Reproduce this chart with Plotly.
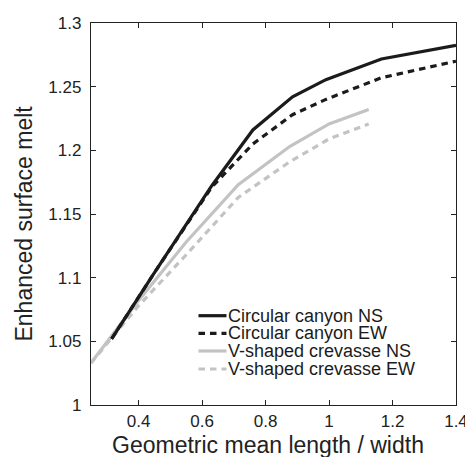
import plotly.graph_objects as go

# Data
cc_ns_x = [0.315, 0.45, 0.63, 0.76, 0.885, 0.99, 1.165, 1.4]
cc_ns_y = [1.052, 1.104, 1.172, 1.216, 1.242, 1.2555, 1.2717, 1.2824]

cc_ew_x = [0.315, 0.45, 0.63, 0.76, 0.885, 0.99, 1.165, 1.4]
cc_ew_y = [1.052, 1.104, 1.171, 1.205, 1.228, 1.240, 1.257, 1.270]

vs_ns_x = [0.25, 0.4, 0.55, 0.714, 0.876, 1.0, 1.125]
vs_ns_y = [1.033, 1.082, 1.128, 1.173, 1.203, 1.2207, 1.232]

vs_ew_x = [0.25, 0.4, 0.55, 0.714, 0.876, 1.0, 1.125]
vs_ew_y = [1.033, 1.078, 1.118, 1.163, 1.191, 1.209, 1.2207]

names = ["Circular canyon NS", "Circular canyon EW",
         "V-shaped crevasse NS", "V-shaped crevasse EW"]

x_title = "Geometric mean length / width"
y_title = "Enhanced surface melt"

x_ticks = [0.4, 0.6, 0.8, 1.0, 1.2, 1.4]
x_ticktext = ["0.4", "0.6", "0.8", "1", "1.2", "1.4"]
y_ticks = [1.0, 1.05, 1.1, 1.15, 1.2, 1.25, 1.3]

BLACK = "#1b1b1b"
GRAY = "#c3c3c3"
DASH = "6.5px,5px"
LW = 3.2

styles = [
    dict(color=BLACK, dash="solid"),
    dict(color=BLACK, dash=DASH),
    dict(color=GRAY, dash="solid"),
    dict(color=GRAY, dash=DASH),
]
series = [(cc_ns_x, cc_ns_y), (cc_ew_x, cc_ew_y), (vs_ns_x, vs_ns_y), (vs_ew_x, vs_ew_y)]

fig = go.Figure()
# draw gray first so black sits on top
for i in [3, 2, 1, 0]:
    xs, ys = series[i]
    fig.add_trace(go.Scatter(
        x=xs, y=ys, mode="lines", name=names[i], showlegend=False,
        line=dict(color=styles[i]["color"], dash=styles[i]["dash"], width=LW),
    ))

FONT = "Liberation Sans, Arial, Helvetica, sans-serif"

# custom legend (compact row spacing as in the reference)
leg_rows_y = [0.2338, 0.1877, 0.1414, 0.0942]
shapes = []
annotations = []
for i, yy in enumerate(leg_rows_y):
    shapes.append(dict(
        type="line", xref="paper", yref="paper",
        x0=0.2945, x1=0.3712, y0=yy, y1=yy,
        line=dict(color=styles[i]["color"], dash=styles[i]["dash"], width=LW),
    ))
    annotations.append(dict(
        xref="paper", yref="paper", x=0.372, y=yy,
        xanchor="left", yanchor="middle", showarrow=False,
        text=names[i], font=dict(size=18, color="#1b1b1b", family=FONT),
        borderpad=0,
    ))

# axis titles
annotations.append(dict(
    xref="paper", yref="paper", x=0.485, y=-0.1047,
    xanchor="center", yanchor="middle", showarrow=False,
    text=x_title, font=dict(size=23, color="#222", family=FONT),
))
annotations.append(dict(
    xref="paper", yref="paper", x=-0.1836, y=0.475,
    xanchor="center", yanchor="middle", showarrow=False, textangle=-90,
    text=y_title, font=dict(size=23, color="#222", family=FONT),
))

axis_common = dict(
    showline=True, linecolor="#222", linewidth=1.3, mirror="ticks",
    ticks="inside", ticklen=5, tickwidth=1, tickcolor="#222",
    showgrid=False, zeroline=False, automargin=False,
    tickfont=dict(size=17, color="#222", family=FONT),
)

fig.update_layout(
    width=465, height=457,
    margin=dict(l=91, r=9, t=23, b=52),
    paper_bgcolor="white", plot_bgcolor="white",
    font=dict(family=FONT, color="#222"),
    xaxis=dict(range=[0.25, 1.400001], tickvals=x_ticks, ticktext=x_ticktext,
               ticklabelstandoff=0, ticklabeloverflow="allow",
               **axis_common),
    yaxis=dict(range=[1.0, 1.3], tickvals=y_ticks,
               ticklabelstandoff=5,
               **axis_common),
    shapes=shapes,
    annotations=annotations,
)

fig.write_html("out.html")
